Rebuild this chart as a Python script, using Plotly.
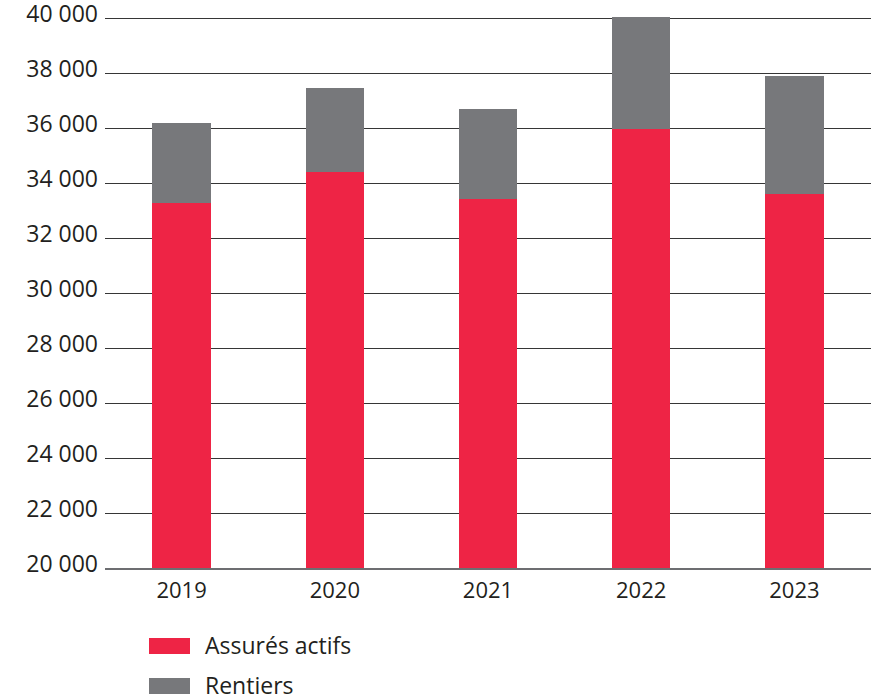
import plotly.graph_objects as go

years = ["2019", "2020", "2021", "2022", "2023"]
assures_actifs = [33280, 34400, 33420, 35960, 33600]
rentiers = [2900, 3055, 3270, 4080, 4290]
series_names = ["Assurés actifs", "Rentiers"]
series_colors = ["#EE2445", "#77787B"]
y_tickvals = [20000, 22000, 24000, 26000, 28000, 30000, 32000, 34000, 36000, 38000, 40000]
y_ticktext = ["20 000", "22 000", "24 000", "26 000", "28 000", "30 000",
              "32 000", "34 000", "36 000", "38 000", "40 000"]

FONT = "Open Sans"
TXT = "#231F20"

fig = go.Figure()
for name, vals, col in zip(series_names, [assures_actifs, rentiers], series_colors):
    fig.add_trace(go.Bar(x=years, y=vals, name=name, marker=dict(color=col, line=dict(width=0)),
                         width=0.38, showlegend=False))

W, H = 871, 697
ml, mr, mt, mb = 105, 0, 17, 129
fig.update_layout(
    width=W, height=H, barmode="stack",
    margin=dict(l=ml, r=mr, t=mt, b=mb),
    plot_bgcolor="white", paper_bgcolor="white",
    font=dict(family=FONT, color=TXT, size=22),
    xaxis=dict(showgrid=False, showline=True, linecolor="#6D6E71", linewidth=1.5,
               layer="below traces", ticks="", ticklabelstandoff=2, automargin=False,
               tickfont=dict(size=22, color=TXT, family=FONT)),
    yaxis=dict(range=[20000, 40040], tickvals=y_tickvals, ticktext=y_ticktext,
               showgrid=True, gridcolor="#363636", gridwidth=1.3, zeroline=False,
               showline=False, ticks="", ticklabelstandoff=6, automargin=False,
               ticklabeloverflow="allow", ticklabelshift=-4,
               tickfont=dict(size=23, color=TXT, family=FONT)),
)

pw, ph = W - ml - mr, H - mt - mb
def px_x(x):
    return (x - ml) / pw
def px_y(y):
    return (H - mb - y) / ph

legend_rows = [646, 686]
for name, col, yc in zip(series_names, series_colors, legend_rows):
    fig.add_shape(type="rect", xref="paper", yref="paper",
                  x0=px_x(149), x1=px_x(190), y0=px_y(yc + 8), y1=px_y(yc - 8),
                  fillcolor=col, line=dict(width=0))
    fig.add_annotation(xref="paper", yref="paper", x=px_x(203), y=px_y(yc - 1),
                       text=name, showarrow=False, xanchor="left", yanchor="middle",
                       font=dict(size=23, color=TXT, family=FONT))

fig.write_html(
    "out.html",
    config={"displayModeBar": False},
    post_script="document.body.style.margin='0';document.body.style.overflow='hidden';",
)
